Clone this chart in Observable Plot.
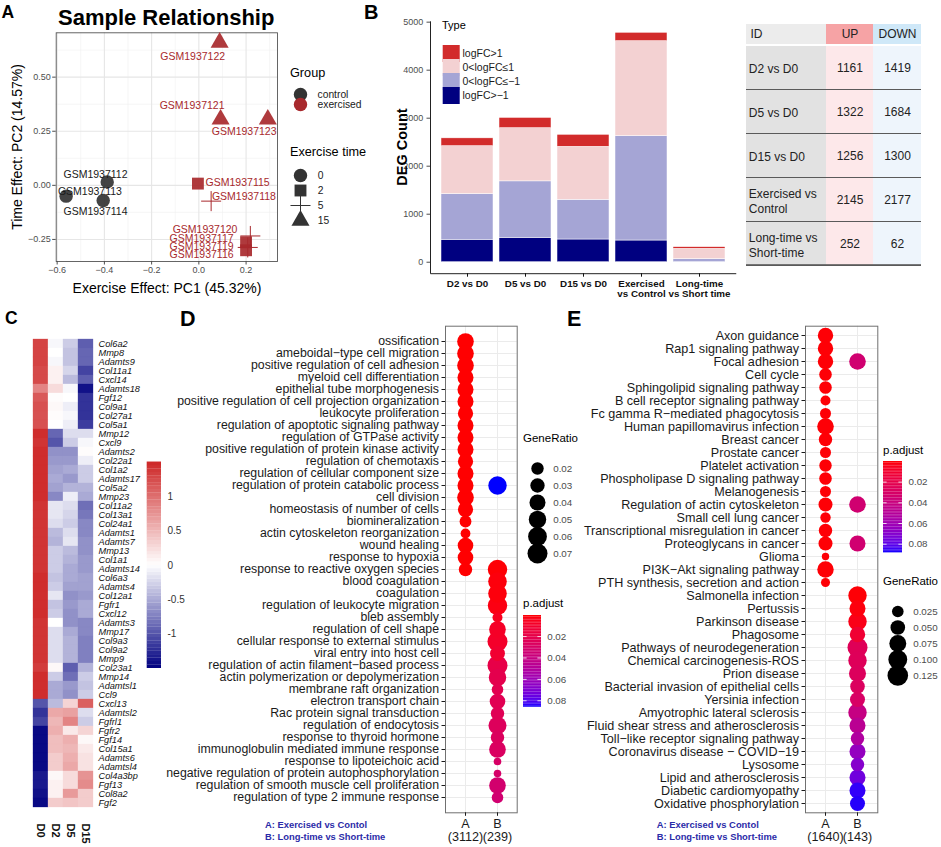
<!DOCTYPE html>
<html>
<head>
<meta charset="utf-8">
<script src="https://cdn.jsdelivr.net/npm/d3@7"></script>
<script src="https://cdn.jsdelivr.net/npm/@observablehq/plot@0.6"></script>
<style>
html,body{margin:0;padding:0;background:#fff;}
#fig{position:relative;width:941px;height:847px;overflow:hidden;background:#fff;font-family:"Liberation Sans",Arial,Helvetica,sans-serif;}
#fig svg{position:absolute;overflow:visible;max-width:none;}
</style>
</head>
<body>
<div id="fig"></div>
<script>
// ===================== DATA =====================
// Panel A: PCA
const pcaIds   = ["GSM1937112","GSM1937113","GSM1937114","GSM1937115","GSM1937116","GSM1937117","GSM1937118","GSM1937119","GSM1937120","GSM1937121","GSM1937122","GSM1937123"];
const pcaPC1   = [-0.388, -0.562, -0.405, -0.004, 0.200, 0.200, 0.052, 0.207, 0.218, 0.092, 0.088, 0.292];
const pcaPC2   = [0.016, -0.050, -0.070, 0.008, -0.300, -0.263, -0.073, -0.287, -0.234, 0.305, 0.660, 0.305];
const pcaGroup = ["control","control","control","exercised","exercised","exercised","exercised","exercised","exercised","exercised","exercised","exercised"];
const pcaTime  = [0, 0, 0, 2, 2, 2, 5, 5, 5, 15, 15, 15];
const groupNames = ["control", "exercised"];
const timeLevels = [0, 2, 5, 15];
const xTicksA = [-0.6, -0.4, -0.2, 0, 0.2];
const xMinorA = [-0.5, -0.3, -0.1, 0.1, 0.3];
const yTicksA = [-0.25, 0, 0.25, 0.5];
const yMinorA = [-0.125, 0.125, 0.375, 0.625];

// Panel B: DEG counts (stacked)
const degComparisons = ["D2 vs D0", "D5 vs D0", "D15 vs D0", "Exercised vs Control", "Long-time vs Short time"];
const degTickLabels  = ["D2 vs D0", "D5 vs D0", "D15 vs D0", "Exercised\nvs Control", "Long-time\nvs Short time"];
const degTypes       = ["logFC>1", "0<logFC≤1", "0<logFC≤−1", "logFC>−1"];
const degUpStrong    = [163, 214, 250, 175, 35];
const degUpWeak      = [998, 1108, 1104, 1979, 217];
const degDownWeak    = [952, 1176, 827, 2173, 54];
const degDownStrong  = [467, 508, 473, 452, 8];
const degYTicks      = [0, 1000, 2000, 3000, 4000, 5000];

// Panel B: table
const tableHeader = ["ID", "UP", "DOWN"];
const tableIds    = ["D2 vs D0", "D5 vs D0", "D15 vs D0", "Exercised vs\nControl", "Long-time vs\nShort-time"];
const tableUp     = [1161, 1322, 1256, 2145, 252];
const tableDown   = [1419, 1684, 1300, 2177, 62];

// Panel C: heatmap (scaled expression)
const hmSamples = ["D0", "D2", "D5", "D15"];
const hmGenes = ["Col6a2","Mmp8","Adamts9","Col11a1","Cxcl14","Adamts18","Fgf12","Col9a1","Col27a1","Col5a1",
  "Mmp12","Cxcl9","Adamts2","Col22a1","Col1a2","Adamts17","Col5a2","Mmp23","Col11a2","Col13a1",
  "Col24a1","Adamts1","Adamts7","Mmp13","Col1a1","Adamts14","Col6a3","Adamts4","Col12a1","Fgfr1",
  "Cxcl12","Adamts3","Mmp17","Col9a3","Col9a2","Mmp9","Col23a1","Mmp14","Adamtsl1","Ccl9",
  "Cxcl13","Adamtsl2","Fgfrl1","Fgfr2","Fgf14","Col15a1","Adamts6","Adamtsl4","Col4a3bp","Fgf13","Col8a2","Fgf2"];
const hmD0  = [1.3,1.3,1.3,1.25,1.25,0.85,1.15,1.2,1.2,1.2, 1.45,1.4,1.45,1.45,1.45,1.45,1.45,1.45,1.4,1.4,
  1.4,1.4,1.4,1.4,1.4,1.4,1.45,1.45,1.45,1.45, 1.45,1.4,1.4,1.4,1.4,1.4,1.35,1.45,1.45,1.45,
  -1.0,-1.2,-1.1,-1.45,-1.45,-1.45,-1.45,-1.45,-1.35,-1.35,-1.4,-1.45];
const hmD2  = [-0.05,0.0,-0.05,0.1,0.1,0.25,0.02,0.05,0.02,0.0, -0.9,-1.0,-0.65,-0.6,-0.55,-0.5,-0.55,-0.7,-0.15,-0.15,
  -0.2,-0.4,-0.45,-0.3,-0.3,-0.3,-0.35,-0.3,-0.15,-0.35, -0.3,0.0,-0.2,-0.2,-0.2,-0.2,0.05,-0.3,-0.5,-0.5,
  -0.4,0.6,0.5,0.55,0.45,0.45,0.35,0.35,0.05,0.1,0.1,0.35];
const hmD5  = [-0.3,-0.35,-0.35,-0.25,-0.4,-0.05,0.0,-0.1,-0.05,-0.1, -0.2,-0.3,-0.65,-0.6,-0.5,-0.6,-0.45,-0.1,-0.2,-0.25,
  -0.3,-0.2,-0.15,-0.4,-0.45,-0.5,-0.5,-0.55,-0.65,-0.6, -0.65,-0.65,-0.5,-0.45,-0.45,-0.45,-0.95,-0.85,-0.6,-0.65,
  0.3,0.65,0.85,0.15,0.55,0.5,0.55,0.6,0.25,0.25,0.7,0.4];
const hmD15 = [-0.95,-0.9,-0.9,-1.1,-0.95,-1.4,-1.2,-1.2,-1.2,-1.15, -0.2,-0.05,0.02,-0.1,-0.3,-0.3,-0.45,-0.5,-0.85,-0.8,
  -0.7,-0.7,-0.65,-0.65,-0.6,-0.6,-0.55,-0.55,-0.6,-0.5, -0.5,-0.7,-0.7,-0.75,-0.75,-0.75,-0.45,-0.3,-0.35,-0.3,
  1.1,-0.2,-0.3,0.3,0.05,0.15,0.2,0.2,0.75,0.8,0.35,0.35];
const hmLegendTicks = [-1, -0.5, 0, 0.5, 1];

// Panel D: GO enrichment
const goTermsD = ["ossification","ameboidal−type cell migration","positive regulation of cell adhesion","myeloid cell differentiation",
  "epithelial tube morphogenesis","positive regulation of cell projection organization","leukocyte proliferation",
  "regulation of apoptotic signaling pathway","regulation of GTPase activity","positive regulation of protein kinase activity",
  "regulation of chemotaxis","regulation of cellular component size","regulation of protein catabolic process","cell division",
  "homeostasis of number of cells","biomineralization","actin cytoskeleton reorganization","wound healing","response to hypoxia",
  "response to reactive oxygen species","blood coagulation","coagulation","regulation of leukocyte migration","bleb assembly",
  "regulation of cell shape","cellular response to external stimulus","viral entry into host cell",
  "regulation of actin filament−based process","actin polymerization or depolymerization","membrane raft organization",
  "electron transport chain","Rac protein signal transduction","regulation of endocytosis","response to thyroid hormone",
  "immunoglobulin mediated immune response","response to lipoteichoic acid","negative regulation of protein autophosphorylation",
  "regulation of smooth muscle cell proliferation","regulation of type 2 immune response"];
const goATermsD = goTermsD.slice(0, 20);
const goARatioD = [0.044,0.044,0.044,0.040,0.040,0.040,0.035,0.040,0.040,0.040,0.035,0.040,0.040,0.044,0.035,0.0174,0.0099,0.0374,0.0374,0.0249];
const goAPadjD  = [0.0005,0.0005,0.0005,0.0005,0.0005,0.0005,0.0005,0.0005,0.0005,0.0005,0.0005,0.0005,0.0005,0.0005,0.0005,0.0005,0.0005,0.0005,0.0005,0.0005];
const goBTermsD = ["regulation of protein catabolic process","response to reactive oxygen species","blood coagulation","coagulation",
  "regulation of leukocyte migration","bleb assembly","regulation of cell shape","cellular response to external stimulus",
  "viral entry into host cell","regulation of actin filament−based process","actin polymerization or depolymerization",
  "membrane raft organization","electron transport chain","Rac protein signal transduction","regulation of endocytosis",
  "response to thyroid hormone","immunoglobulin mediated immune response","response to lipoteichoic acid",
  "negative regulation of protein autophosphorylation","regulation of smooth muscle cell proliferation","regulation of type 2 immune response"];
const goBRatioD = [0.0571,0.0651,0.0587,0.0587,0.0651,0.0105,0.044,0.0702,0.033,0.0702,0.0496,0.0165,0.0374,0.0249,0.054,0.0249,0.044,0.004,0.004,0.044,0.0165];
const goBPadjD  = [0.086,0.001,0.002,0.002,0.003,0.006,0.008,0.009,0.011,0.019,0.021,0.022,0.023,0.024,0.026,0.027,0.028,0.030,0.031,0.033,0.034];
const goCountsD = [3112, 239];
const goRatioLegendD = [0.02, 0.03, 0.04, 0.05, 0.06, 0.07];

// Panel E: KEGG enrichment
const keggTermsE = ["Axon guidance","Rap1 signaling pathway","Focal adhesion","Cell cycle","Sphingolipid signaling pathway",
  "B cell receptor signaling pathway","Fc gamma R−mediated phagocytosis","Human papillomavirus infection","Breast cancer",
  "Prostate cancer","Platelet activation","Phospholipase D signaling pathway","Melanogenesis","Regulation of actin cytoskeleton",
  "Small cell lung cancer","Transcriptional misregulation in cancer","Proteoglycans in cancer","Glioma","PI3K−Akt signaling pathway",
  "PTH synthesis, secretion and action","Salmonella infection","Pertussis","Parkinson disease","Phagosome",
  "Pathways of neurodegeneration","Chemical carcinogenesis-ROS","Prion disease","Bacterial invasion of epithelial cells",
  "Yersinia infection","Amyotrophic lateral sclerosis","Fluid shear stress and atherosclerosis","Toll−like receptor signaling pathway",
  "Coronavirus disease − COVID−19","Lysosome","Lipid and atherosclerosis","Diabetic cardiomyopathy","Oxidative phosphorylation"];
const keggATermsE = keggTermsE.slice(0, 20);
const keggARatioE = [0.058,0.058,0.058,0.0324,0.0324,0.0152,0.0211,0.0713,0.039,0.0211,0.0309,0.0324,0.0211,0.0443,0.0175,0.039,0.0443,0.0045,0.069,0.0104];
const keggAPadjE  = [0.001,0.001,0.001,0.001,0.001,0.001,0.001,0.001,0.001,0.001,0.001,0.001,0.001,0.001,0.001,0.001,0.001,0.001,0.001,0.001];
const keggBTermsE = ["Focal adhesion","Regulation of actin cytoskeleton","Proteoglycans in cancer","Salmonella infection","Pertussis",
  "Parkinson disease","Phagosome","Pathways of neurodegeneration","Chemical carcinogenesis-ROS","Prion disease",
  "Bacterial invasion of epithelial cells","Yersinia infection","Amyotrophic lateral sclerosis","Fluid shear stress and atherosclerosis",
  "Toll−like receptor signaling pathway","Coronavirus disease − COVID−19","Lysosome","Lipid and atherosclerosis",
  "Diabetic cardiomyopathy","Oxidative phosphorylation"];
const keggBRatioE = [0.0713,0.0713,0.0645,0.0937,0.0645,0.0937,0.058,0.1162,0.0937,0.076,0.0499,0.0539,0.0937,0.0645,0.039,0.0645,0.039,0.0645,0.0645,0.0539];
const keggBPadjE  = [0.035,0.035,0.035,0.001,0.002,0.004,0.012,0.025,0.026,0.027,0.028,0.030,0.042,0.048,0.053,0.065,0.070,0.076,0.086,0.087];
const keggCountsE = [1640, 143];
const keggRatioLegendE = [0.025, 0.05, 0.075, 0.1, 0.125];

// ===================== STYLE / LAYOUT =====================
const FONT = '"Liberation Sans", Arial, Helvetica, sans-serif';
const CTRL = "#333333", EXER = "#a8292d";
const degColors = ["#d22b2b", "#f3d1d2", "#a5a5d5", "#000080"];
const tableColEdges = [0, 80, 127, 175];
const tableHeaderFill = ["#ececec", "#f6a3a5", "#cfe8f8"];
const tableBodyFill = ["#e2e2e2", "#fde8ea", "#eef5fc"];
const NOTE_BLUE = "#2b2ba8";
const PLUS_R = 6.5;
const baseStyle = {fontFamily: FONT, fontSize: "10px", background: "transparent", overflow: "visible", color: "#1a1a1a"};
const fig = document.getElementById("fig");

function put(svg, left, top) {
  svg.style.position = "absolute";
  svg.style.left = left + "px";
  svg.style.top = top + "px";
  svg.style.maxWidth = "none";
  fig.appendChild(svg);
  return svg;
}
function T(text, x, yBase, o = {}) {
  const fs = o.size || 12;
  const d = document.createElement("div");
  d.textContent = text;
  Object.assign(d.style, {
    position: "absolute", left: x + "px", top: (yBase - 0.8465 * fs) + "px",
    fontSize: fs + "px", lineHeight: "1", fontWeight: o.weight || "normal",
    fontStyle: o.style || "normal", color: o.color || "#000", whiteSpace: "pre", fontFamily: FONT
  });
  const tx = o.anchor === "middle" ? "-50%" : o.anchor === "end" ? "-100%" : "0";
  d.style.transform = `translateX(${tx})`;
  fig.appendChild(d);
}
function RT(text, cx, cy, o = {}) {
  const fs = o.size || 12;
  const d = document.createElement("div");
  d.textContent = text;
  Object.assign(d.style, {
    position: "absolute", left: cx + "px", top: cy + "px", fontSize: fs + "px", lineHeight: "1",
    fontWeight: o.weight || "normal", color: o.color || "#000", whiteSpace: "pre", fontFamily: FONT,
    transform: "translate(-50%,-50%) rotate(-90deg)"
  });
  fig.appendChild(d);
}
function styleAxisText(svg, label, css) {
  svg.querySelectorAll(`[aria-label="${label}"] text`).forEach(t => Object.assign(t.style, css));
}

// ===================== PANEL A =====================
const idxA = d3.range(pcaIds.length);
const labelDxA = [-11.7, 23.8, -7.7, 39.7, -44.5, -44.5, 32.8, -46.2, -45.3, -28.5, -26.9, -23.7];
const labelDyA = [-7.5, -4.9, 11.1, -0.7, 4, -3.7, -5, -1, -6, -13.3, 14, 12.4];
put(Plot.plot({
  width: 290, height: 300, marginLeft: 55.7, marginRight: 13, marginTop: 32.3, marginBottom: 39,
  style: baseStyle,
  x: {domain: [-0.604, 0.333]},
  y: {domain: [-0.352, 0.705]},
  color: {domain: groupNames, range: [CTRL, EXER]},
  symbol: {domain: timeLevels, range: ["circle", "square", "plus", "triangle"]},
  marks: [
    Plot.ruleX(xMinorA, {stroke: "#f0f0f0", strokeWidth: 0.6}),
    Plot.ruleY(yMinorA, {stroke: "#f0f0f0", strokeWidth: 0.6}),
    Plot.ruleX(xTicksA, {stroke: "#e6e6e6", strokeWidth: 1.1}),
    Plot.ruleY(yTicksA, {stroke: "#e6e6e6", strokeWidth: 1.1}),
    Plot.frame({stroke: "#555", strokeWidth: 0.9}),
    Plot.axisX({ticks: xTicksA, tickFormat: d3.format(".1f"), tickSize: 3.5, tickPadding: 2, fontSize: 9, color: "#4d4d4d", label: null}),
    Plot.axisY({ticks: yTicksA, tickFormat: d3.format(".2f"), tickSize: 3.5, tickPadding: 2, fontSize: 9, color: "#4d4d4d", label: null}),
    Plot.dot(idxA.filter(i => pcaTime[i] !== 5), {x: i => pcaPC1[i], y: i => pcaPC2[i], symbol: i => pcaTime[i], fill: i => pcaGroup[i], r: 6.7, fillOpacity: 0.92}),
    Plot.dot(idxA.filter(i => pcaTime[i] === 5), {x: i => pcaPC1[i], y: i => pcaPC2[i], symbol: i => pcaTime[i], stroke: i => pcaGroup[i], r: PLUS_R, strokeWidth: 1}),
    ...idxA.map(i => Plot.text([i], {
      x: j => pcaPC1[j], y: j => pcaPC2[j], text: j => pcaIds[j],
      fill: pcaGroup[i] === "control" ? "#1a1a1a" : EXER, fontSize: 10.5,
      dx: labelDxA[i], dy: labelDyA[i]
    }))
  ]
}), 0, 0);
T("A", 1.5, 19.3, {size: 17.5, weight: "bold"});
T("Sample Relationship", 58, 26, {size: 22, weight: "bold"});
T("Exercise Effect: PC1 (45.32%)", 167, 293, {size: 14, anchor: "middle"});
RT("Time Effect: PC2 (14.57%)", 17, 147, {size: 14});

// legend A: Group
T("Group", 290, 78, {size: 12.7});
put(Plot.plot({
  width: 110, height: 40, marginLeft: 0, marginRight: 0, marginTop: 10, marginBottom: 10,
  style: baseStyle,
  y: {type: "point", domain: groupNames, axis: null},
  color: {domain: groupNames, range: [CTRL, EXER]},
  marks: [
    Plot.dot(groupNames, {y: d => d, fill: d => d, r: 6.7, frameAnchor: "left", dx: 15}),
    Plot.text(groupNames, {y: d => d, text: d => d, frameAnchor: "left", dx: 32, textAnchor: "start", fontSize: 10.3, fill: "#1a1a1a"})
  ]
}), 285, 79);
// legend A: Exercise time
T("Exercise time", 290, 157, {size: 12.7});
put(Plot.plot({
  width: 110, height: 83, marginLeft: 0, marginRight: 0, marginTop: 10, marginBottom: 10,
  style: baseStyle,
  y: {type: "point", domain: timeLevels, axis: null},
  symbol: {domain: timeLevels, range: ["circle", "square", "plus", "triangle"]},
  marks: [
    Plot.dot(timeLevels.filter(t => t !== 5), {y: d => d, symbol: d => d, fill: CTRL, r: 6.7, frameAnchor: "left", dx: 15}),
    Plot.dot(timeLevels.filter(t => t === 5), {y: d => d, symbol: d => d, stroke: CTRL, r: PLUS_R, strokeWidth: 1, frameAnchor: "left", dx: 15}),
    Plot.text(timeLevels, {y: d => d, text: d => String(d), frameAnchor: "left", dx: 32.3, textAnchor: "start", fontSize: 10.3, fill: "#1a1a1a"})
  ]
}), 285, 156);

// ===================== PANEL B: bars =====================
const degStack = [];
degComparisons.forEach((c, i) => {
  degStack.push({comp: c, type: degTypes[3], n: degDownStrong[i]});
  degStack.push({comp: c, type: degTypes[2], n: degDownWeak[i]});
  degStack.push({comp: c, type: degTypes[1], n: degUpWeak[i]});
  degStack.push({comp: c, type: degTypes[0], n: degUpStrong[i]});
});
{
  const W = 380, H = 310, mL = 70, mR = 4.25, mT = 20.8, mB = 36.8;
  const fw = W - mL - mR, fh = H - mT - mB;
  const svgB = put(Plot.plot({
    width: W, height: H, marginLeft: mL, marginRight: mR, marginTop: mT, marginBottom: mB,
    style: baseStyle,
    x: {type: "band", domain: degComparisons, paddingInner: 0.1, paddingOuter: 0.152},
    y: {domain: [-239, 5018]},
    color: {domain: degTypes, range: degColors},
    marks: [
      Plot.barY(degStack, {x: "comp", y: "n", fill: "type", stroke: "white", strokeWidth: 0.5}),
      Plot.frame({stroke: "#222", strokeWidth: 1, strokeDasharray: `0 ${fw + fh} ${fw + fh}`}),
      Plot.axisY({ticks: degYTicks, tickFormat: d3.format("d"), tickSize: 3.5, tickPadding: 3.8, fontSize: 9, color: "#4d4d4d", label: null}),
      Plot.axisX({tickSize: 3.5, tickPadding: 3, fontSize: 9.8, fontWeight: "bold", color: "#111", label: null,
        tickFormat: d => degTickLabels[degComparisons.indexOf(d)]})
    ]
  }), 360, 0);
  styleAxisText(svgB, "x-axis tick label", {fontWeight: "bold"});
}
T("B", 364, 18.5, {size: 20, weight: "bold"});
RT("DEG Count", 402, 147, {size: 14.5, weight: "bold"});
T("Type", 442, 29, {size: 11});
put(Plot.plot({
  width: 150, height: 76, marginLeft: 0, marginRight: 0, marginTop: 10, marginBottom: 10,
  style: baseStyle,
  y: {type: "point", domain: degTypes, axis: null},
  color: {domain: degTypes, range: degColors},
  marks: [
    Plot.dot(degTypes, {y: d => d, fill: d => d, symbol: "square", r: 9.6, frameAnchor: "left", dx: 14.7}),
    Plot.text(degTypes, {y: d => d, text: d => d, frameAnchor: "left", dx: 26, textAnchor: "start", fontSize: 10.5, fill: "#1a1a1a"})
  ]
}), 436, 36);

// ===================== PANEL B: table =====================
put(Plot.plot({
  width: 175, height: 20, margin: 0,
  style: baseStyle,
  x: {domain: [0, 175], axis: null},
  y: {type: "band", domain: ["header"], padding: 0, axis: null},
  color: {type: "identity"},
  marks: [
    Plot.barX(tableHeader, {x1: (d, i) => tableColEdges[i], x2: (d, i) => tableColEdges[i + 1], y: () => "header", fill: (d, i) => tableHeaderFill[i]}),
    Plot.text(tableHeader.slice(0, 1), {x: () => tableColEdges[0], y: () => "header", text: d => d, textAnchor: "start", dx: 4, fontSize: 12, fill: "#222"}),
    Plot.text(tableHeader.slice(1), {x: (d, i) => (tableColEdges[i + 1] + tableColEdges[i + 2]) / 2, y: () => "header", text: d => d, fontSize: 12, fill: "#222"})
  ]
}), 746, 24);
{
  const cells = tableIds.flatMap((id, r) => [0, 1, 2].map(c => ({id, c, text: c === 0 ? id : c === 1 ? String(tableUp[r]) : String(tableDown[r])})));
  const rowH = 223 / tableIds.length;
  put(Plot.plot({
    width: 175, height: 223, margin: 0,
    style: baseStyle,
    x: {domain: [0, 175], axis: null},
    y: {type: "band", domain: tableIds, padding: 0, axis: null},
    color: {type: "identity"},
    marks: [
      Plot.barX(cells, {x1: d => tableColEdges[d.c], x2: d => tableColEdges[d.c + 1], y: "id", fill: d => tableBodyFill[d.c]}),
      Plot.text(cells.filter(d => d.c === 0), {x: () => tableColEdges[0], y: "id", text: "text", textAnchor: "start", dx: 2.3, fontSize: 12, lineHeight: 1.28, fill: "#222"}),
      Plot.text(cells.filter(d => d.c > 0), {x: d => (tableColEdges[d.c] + tableColEdges[d.c + 1]) / 2, y: "id", text: "text", fontSize: 12, fill: "#222"}),
      Plot.barX(tableIds.slice(0, 4), {x1: () => 0, x2: () => 175, y: d => d, fill: "#5a5a5a", insetTop: rowH - 1.6}),
      Plot.barX(tableIds.slice(4), {x1: () => 0, x2: () => 175, y: d => d, fill: "#5a5a5a", insetTop: rowH - 2.4})
    ]
  }), 746, 44);
}

// ===================== PANEL C: heatmap =====================
const hmValues = [hmD0, hmD2, hmD5, hmD15];
const hmCells = hmGenes.flatMap((g, i) => hmSamples.map((s, j) => ({gene: g, sample: s, z: hmValues[j][i]})));
const hmColor = {type: "linear", domain: [-1.5, 0, 1.5], range: ["#000080", "#ffffff", "#cd2626"]};
{
  const svgC = put(Plot.plot({
    width: 150, height: 532, marginLeft: 31.7, marginRight: 55.7, marginTop: 10, marginBottom: 27,
    style: baseStyle,
    x: {type: "band", domain: hmSamples, padding: 0},
    y: {type: "band", domain: hmGenes, padding: 0},
    color: hmColor,
    marks: [
      Plot.cell(hmCells, {x: "sample", y: "gene", fill: "z", stroke: "z", strokeWidth: 0.3}),
      Plot.axisY({anchor: "right", tickSize: 0, tickPadding: 3.7, fontSize: 9.2, fontStyle: "italic", color: "#111", label: null}),
      Plot.axisX({anchor: "bottom", tickSize: 0, tickPadding: 3, tickRotate: 90, fontSize: 11, fontWeight: "bold", color: "#111", label: null})
    ]
  }), 0, 315);
  styleAxisText(svgC, "y-axis tick label", {fontStyle: "italic"});
  styleAxisText(svgC, "x-axis tick label", {fontWeight: "bold"});
}
T("C", 5, 325, {size: 17.5, weight: "bold"});
{
  const steps = d3.range(60);
  const lo = -1.5, hi = 1.5, st = (hi - lo) / steps.length;
  put(Plot.plot({
    width: 50, height: 220, marginLeft: 6.7, marginRight: 29, marginTop: 6.7, marginBottom: 7,
    style: baseStyle,
    y: {domain: [lo, hi]},
    color: hmColor,
    marks: [
      Plot.rect(steps, {y1: i => lo + i * st, y2: i => lo + (i + 1) * st + st * 0.05, fill: i => lo + (i + 0.5) * st}),
      Plot.axisY({anchor: "right", ticks: hmLegendTicks, tickSize: 0, tickPadding: 6, fontSize: 10, color: "#333", label: null, tickFormat: d => String(d)})
    ]
  }), 140, 455);
}

// ===================== PANELS D & E =====================
function dotPanel({terms, aTerms, aRatio, aP, bTerms, bRatio, bP, counts, rDomain, rRange, pDomain, width, marginLeft, marginRight, fontSize}) {
  const rows = [
    ...aTerms.map((t, i) => ({col: "A", term: t, ratio: aRatio[i], p: aP[i]})),
    ...bTerms.map((t, i) => ({col: "B", term: t, ratio: bRatio[i], p: bP[i]}))
  ];
  return Plot.plot({
    width, height: 532, marginLeft, marginRight, marginTop: 10.7, marginBottom: 34.7,
    style: baseStyle,
    x: {type: "point", domain: ["A", "B"], padding: 0.6},
    y: {type: "point", domain: terms, padding: 0.6},
    r: {type: "sqrt", domain: rDomain, range: rRange},
    color: {type: "linear", domain: pDomain, range: ["red", "blue"], interpolate: "lab"},
    marks: [
      Plot.gridX({stroke: "#ebebeb", strokeOpacity: 1, strokeWidth: 1}),
      Plot.gridY({stroke: "#ebebeb", strokeOpacity: 1, strokeWidth: 1}),
      Plot.frame({stroke: "#707070", strokeWidth: 1}),
      Plot.dot(rows, {x: "col", y: "term", r: "ratio", fill: "p"}),
      Plot.axisY({tickSize: 3.5, tickPadding: 3, fontSize, color: "#1a1a1a", label: null}),
      Plot.axisX({tickSize: 3.5, tickPadding: 1.5, fontSize: 12.6, color: "#1a1a1a", label: null, lineHeight: 1.1,
        tickFormat: (d, i) => `${d}\n(${counts[i]})`})
    ]
  });
}
function ratioLegend({items, rDomain, rRange, fmt, height, mTop, mBottom, dxDot, dxText}) {
  return Plot.plot({
    width: 70, height, marginLeft: 0, marginRight: 0, marginTop: mTop, marginBottom: mBottom,
    style: baseStyle,
    y: {type: "point", domain: items, axis: null},
    r: {type: "sqrt", domain: rDomain, range: rRange},
    marks: [
      Plot.dot(items, {y: d => d, r: d => d, fill: "#000", frameAnchor: "left", dx: dxDot}),
      Plot.text(items, {y: d => d, text: d => d3.format(fmt)(d), frameAnchor: "left", dx: dxText, textAnchor: "start", fontSize: 9.8, fill: "#4d4d4d"})
    ]
  });
}
function padjBar({pDomain, width, height, mRight, mBottom, tickPadding}) {
  const steps = d3.range(60);
  const [lo, hi] = pDomain, st = (hi - lo) / steps.length;
  const barW = width - 5 - mRight;
  return Plot.plot({
    width, height, marginLeft: 5, marginRight: mRight, marginTop: 5, marginBottom: mBottom,
    style: baseStyle,
    y: {domain: pDomain, reverse: true},
    color: {type: "linear", domain: pDomain, range: ["red", "blue"], interpolate: "lab"},
    marks: [
      Plot.rect(steps, {y1: i => lo + i * st, y2: i => lo + (i + 1) * st + st * 0.05, fill: i => lo + (i + 0.5) * st}),
      Plot.tickY([0.02, 0.04, 0.06, 0.08], {y: d => d, stroke: "white", strokeWidth: 0.8, insetRight: barW - 3.6}),
      Plot.tickY([0.02, 0.04, 0.06, 0.08], {y: d => d, stroke: "white", strokeWidth: 0.8, insetLeft: barW - 3.6}),
      Plot.axisY({anchor: "right", ticks: [0.02, 0.04, 0.06, 0.08], tickSize: 0, tickPadding, fontSize: 9.8, color: "#4d4d4d", label: null, tickFormat: d3.format(".2f")})
    ]
  });
}

// Panel D
const rDomD = [0.02, 0.07], rRangeD = [6.2, 10], pDomD = [0.0003, 0.086];
put(dotPanel({terms: goTermsD, aTerms: goATermsD, aRatio: goARatioD, aP: goAPadjD, bTerms: goBTermsD, bRatio: goBRatioD, bP: goBPadjD,
  counts: goCountsD, rDomain: rDomD, rRange: rRangeD, pDomain: pDomD, width: 385, marginLeft: 305, marginRight: 8.3, fontSize: 12.3}), 140, 315);
T("D", 180, 327, {size: 21.5, weight: "bold"});
T("GeneRatio", 523, 442.5, {size: 11.5});
put(ratioLegend({items: goRatioLegendD, rDomain: rDomD, rRange: rRangeD, fmt: ".2f", height: 124, mTop: 11, mBottom: 10, dxDot: 19, dxText: 34.7}), 518, 448);
T("p.adjust", 523, 607.5, {size: 11.5});
put(padjBar({pDomain: pDomD, width: 60, height: 102, mRight: 37, mBottom: 5.3, tickPadding: 5.7}), 518, 610);
T("A: Exercised vs Contol", 265, 828, {size: 9.4, weight: "bold", color: NOTE_BLUE});
T("B: Long-time vs Short-time", 265, 839.5, {size: 9.4, weight: "bold", color: NOTE_BLUE});

// Panel E
const rDomE = [0.025, 0.125], rRangeE = [5.8, 10.3], pDomE = [0.0001, 0.0883];
put(dotPanel({terms: keggTermsE, aTerms: keggATermsE, aRatio: keggARatioE, aP: keggAPadjE, bTerms: keggBTermsE, bRatio: keggBRatioE, bP: keggBPadjE,
  counts: keggCountsE, rDomain: rDomE, rRange: rRangeE, pDomain: pDomE, width: 325, marginLeft: 245, marginRight: 7.7, fontSize: 12.6}), 560, 315);
T("E", 567, 327, {size: 21.5, weight: "bold"});
T("p.adjust", 883, 454.5, {size: 11.5});
put(padjBar({pDomain: pDomE, width: 63, height: 101.3, mRight: 39, mBottom: 5, tickPadding: 6}), 878, 456);
T("GeneRatio", 883, 586, {size: 11.5});
put(ratioLegend({items: keggRatioLegendE, rDomain: rDomE, rRange: rRangeE, fmt: ".3f", height: 102, mTop: 10.3, mBottom: 10, dxDot: 17.3, dxText: 32.7}), 880, 592);
T("A: Exercised vs Contol", 656.7, 828, {size: 9.4, weight: "bold", color: NOTE_BLUE});
T("B: Long-time vs Short-time", 656.7, 839.5, {size: 9.4, weight: "bold", color: NOTE_BLUE});
</script>
</body>
</html>
